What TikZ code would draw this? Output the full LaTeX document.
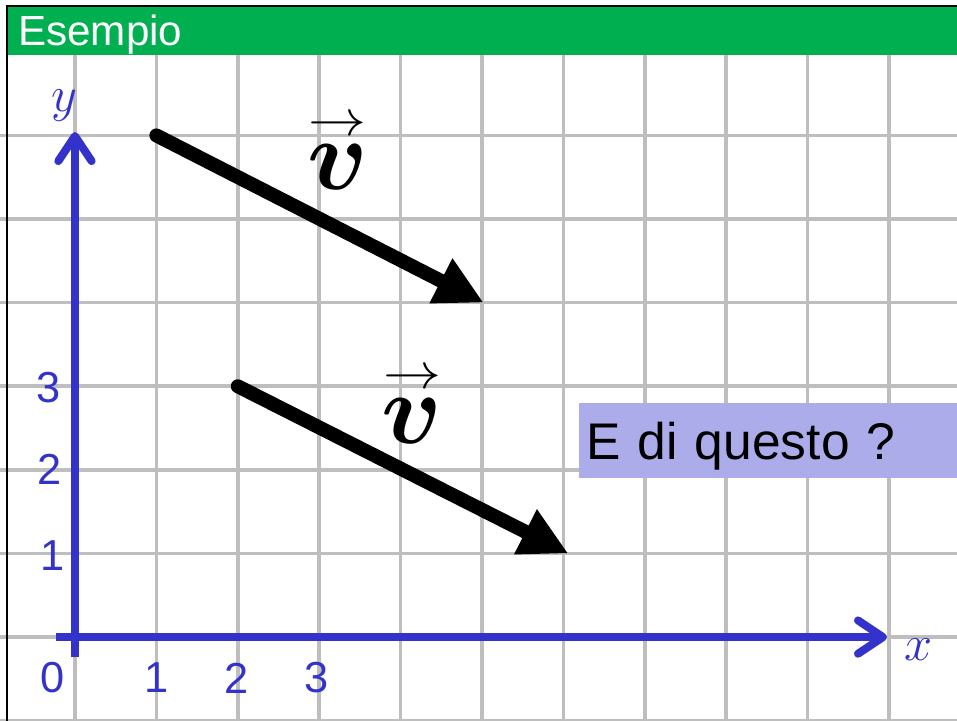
\RequirePackage{fix-cm}
\documentclass[tikz,border=0pt]{standalone}
\usepackage{amsmath, amssymb}
\usepackage{graphicx}
\usepackage{fontspec}
\setmainfont{Liberation Sans}
\usepackage{tikz}
\usetikzlibrary{arrows.meta}

\newcommand{\vecv}{\overset{\smash{\raisebox{-9pt}{\scalebox{1.15}[1]{$\scriptscriptstyle\rightarrow$}}}}{\boldsymbol{v}}}

\begin{document}
\begin{tikzpicture}[x=2.442cm, y=2.508cm,
    every node/.style={inner sep=0pt},
    asse/.style={bluA, line width=0.24cm, -{Straight Barb[length=0.75cm, width=1.0cm, round]}},
    vettore/.style={line width=0.42cm, line cap=round, -{Triangle[length=1.44cm, width=1.41cm]}},
    numero/.style={text=bluA, font=\fontsize{37}{37}\selectfont},
    etichetta/.style={text=bluA, font=\fontsize{43}{43}\selectfont},
    nomev/.style={font=\fontsize{86}{86}\selectfont},
    domanda/.style={fill=lillaB, minimum height=2.25cm, text width=13cm, inner xsep=0.21cm,
        align=left, text depth=0pt, font=\fontsize{44}{44}\selectfont}]

    % Colori
    \definecolor{verdeH}{RGB}{0,176,80}     % intestazione
    \definecolor{bluA}{RGB}{51,51,204}      % assi e numeri
    \definecolor{lillaB}{RGB}{172,172,234}  % riquadro
    \definecolor{grigioG}{RGB}{190,190,190} % griglia

    \useasboundingbox (-0.921,-0.993) rectangle (10.835,7.620);

    % Griglia
    \draw[grigioG, line width=0.11cm, step=1] (-0.921,-1) grid (10.835,6.962);

    % Intestazione
    \fill[verdeH] (-0.835,6.962) rectangle (10.835,7.548);
    \draw[line width=0.06cm] (-0.835,-1.1) -- (-0.835,7.548) -- (10.9,7.548);
    \node[anchor=base west, text=white, font=\fontsize{36}{36}\selectfont] (titolo) at (-0.700,7.081) {Esempio};

    % Assi
    \coordinate (xs) at (-0.233,0);
    \coordinate (xe) at (9.975,0);
    \coordinate (ys) at (0,-0.24);
    \coordinate (ye) at (0,6.04);
    \draw[asse] (xs) -- (xe);
    \draw[asse] (ys) -- (ye);

    \node[etichetta] (ly) at (-0.135,6.36) {$y$};
    \node[etichetta] (lx) at (10.36,-0.155) {$x$};

    % Numeri sugli assi
    \node[numero] (n0) at (-0.28,-0.49) {0};
    \node[numero] (x1) at (1.0,-0.49) {1};
    \node[numero] (x2) at (1.99,-0.49) {2};
    \node[numero] (x3) at (2.97,-0.49) {3};
    \node[numero] (y1) at (-0.28,0.98) {1};
    \node[numero] (y2) at (-0.31,2.0) {2};
    \node[numero] (y3) at (-0.33,2.98) {3};

    % Vettori
    \coordinate (a1) at (1,6);
    \coordinate (b1) at (5.02,4);
    \coordinate (a2) at (2,3);
    \coordinate (b2) at (6.06,1);
    \draw[vettore] (a1) -- (b1);
    \draw[vettore] (a2) -- (b2);

    % v sopra i vettori (base della lettera)
    \node[nomev, anchor=base] (v1) at (3.23,5.35) {$\vecv$};
    \node[nomev, anchor=base] (v2) at (4.14,2.32) {$\vecv$};

    % Domanda
    \node[domanda, anchor=west] (q) at (6.19,2.35) {E di questo ?};

\end{tikzpicture}
\end{document}
